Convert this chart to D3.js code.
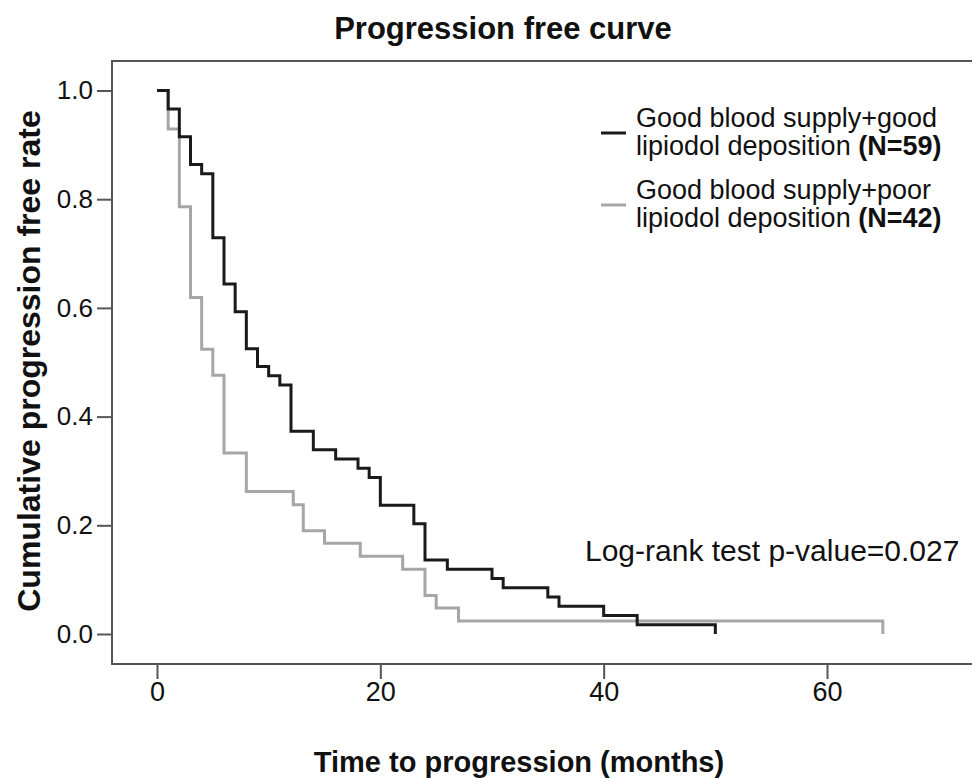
<!DOCTYPE html>
<html lang="en">
<head>
<meta charset="UTF-8">
<title>Progression free curve</title>
<script src="https://d3js.org/d3.v7.min.js"></script>
<style>
  body { margin: 0; background: #fff; }
  text { font-family: "Liberation Sans", Arial, sans-serif; fill: #111; }
</style>
</head>
<body>
<div id="chart"></div>
<script>
// Kaplan-Meier steps (months, survival after the step)
var goodTimes = [0, 1, 2, 3, 4, 5, 6, 7, 8, 9, 10, 11, 12, 14, 16, 18, 19, 20, 23, 24, 26, 30, 31, 35, 36, 40, 43, 50];
var goodRates = [1.0, 0.966, 0.915, 0.864, 0.847, 0.729, 0.644, 0.593, 0.525, 0.492, 0.475, 0.458, 0.373, 0.339, 0.322, 0.305, 0.288, 0.237, 0.203, 0.136, 0.119, 0.102, 0.085, 0.068, 0.051, 0.034, 0.017, 0];
var poorTimes = [0, 1, 2, 3, 4, 5, 6, 8, 12.2, 13.1, 15, 18.2, 22, 24, 25, 27, 65];
var poorRates = [1.0, 0.929, 0.786, 0.619, 0.524, 0.476, 0.333, 0.262, 0.238, 0.190, 0.167, 0.143, 0.119, 0.071, 0.048, 0.024, 0];

var xTicks = [0, 20, 40, 60];
var yTicks = [0, 0.2, 0.4, 0.6, 0.8, 1.0];

var W = 972, H = 778;
var svg = d3.select("#chart").append("svg")
    .attr("width", W).attr("height", H);

// frame of the plot area
var frame = { left: 112, top: 61, right: 980, bottom: 664 };

var x = d3.scaleLinear().domain([0, 60]).range([157, 827]);
var y = d3.scaleLinear().domain([0, 1]).range([634, 90.5]);

// title
svg.append("text")
    .attr("x", 503).attr("y", 39)
    .attr("text-anchor", "middle")
    .style("font-size", "31px").style("font-weight", "bold")
    .text("Progression free curve");

// y axis
var yAxis = svg.append("g")
    .attr("transform", `translate(${frame.left},0)`)
    .call(d3.axisLeft(y).tickValues(yTicks).tickSize(15).tickPadding(4).tickFormat(d3.format(".1f")));
yAxis.select(".domain").remove();
yAxis.selectAll("line").attr("stroke", "#555").attr("stroke-width", 2);
yAxis.selectAll("text").style("font-size", "26px").style("font-family", "Liberation Sans, Arial, sans-serif").attr("fill", "#111");

// x axis
var xAxis = svg.append("g")
    .attr("transform", `translate(0,${frame.bottom})`)
    .call(d3.axisBottom(x).tickValues(xTicks).tickSize(15).tickPadding(3));
xAxis.select(".domain").remove();
xAxis.selectAll("line").attr("stroke", "#555").attr("stroke-width", 2);
xAxis.selectAll("text").style("font-size", "27px").style("font-family", "Liberation Sans, Arial, sans-serif").attr("fill", "#111");

// frame
svg.append("rect")
    .attr("x", frame.left).attr("y", frame.top)
    .attr("width", frame.right - frame.left).attr("height", frame.bottom - frame.top)
    .attr("fill", "none").attr("stroke", "#555").attr("stroke-width", 2);

// axis titles
svg.append("text")
    .attr("transform", "translate(40,361) rotate(-90)")
    .attr("text-anchor", "middle")
    .style("font-size", "32px").style("font-weight", "bold")
    .text("Cumulative progression free rate");

svg.append("text")
    .attr("x", 519).attr("y", 772)
    .attr("text-anchor", "middle")
    .style("font-size", "29px").style("font-weight", "bold")
    .text("Time to progression (months)");

// curves
var line = d3.line()
    .x(d => x(d[0]))
    .y(d => y(d[1]))
    .curve(d3.curveStepAfter);

svg.append("path")
    .datum(d3.zip(poorTimes, poorRates))
    .attr("d", line)
    .attr("fill", "none").attr("stroke", "#a6a6a6").attr("stroke-width", 3);

svg.append("path")
    .datum(d3.zip(goodTimes, goodRates))
    .attr("d", line)
    .attr("fill", "none").attr("stroke", "#1a1a1a").attr("stroke-width", 3);

// legend
var legend = [
  { color: "#1a1a1a", l1: "Good blood supply+good", l2: "lipiodol deposition ", n: "(N=59)", y: 133 },
  { color: "#a6a6a6", l1: "Good blood supply+poor", l2: "lipiodol deposition ", n: "(N=42)", y: 205 }
];
legend.forEach(function (d) {
  svg.append("line")
      .attr("x1", 601).attr("x2", 626)
      .attr("y1", d.y).attr("y2", d.y)
      .attr("stroke", d.color).attr("stroke-width", 3);
  svg.append("text")
      .attr("x", 636).attr("y", d.y - 6)
      .style("font-size", "27px")
      .text(d.l1);
  var t = svg.append("text")
      .attr("x", 636).attr("y", d.y + 22)
      .style("font-size", "27px");
  t.append("tspan").text(d.l2);
  t.append("tspan").style("font-weight", "bold").text(d.n);
});

svg.append("text")
    .attr("x", 585).attr("y", 561)
    .style("font-size", "30px")
    .text("Log-rank test p-value=0.027");
</script>
</body>
</html>
